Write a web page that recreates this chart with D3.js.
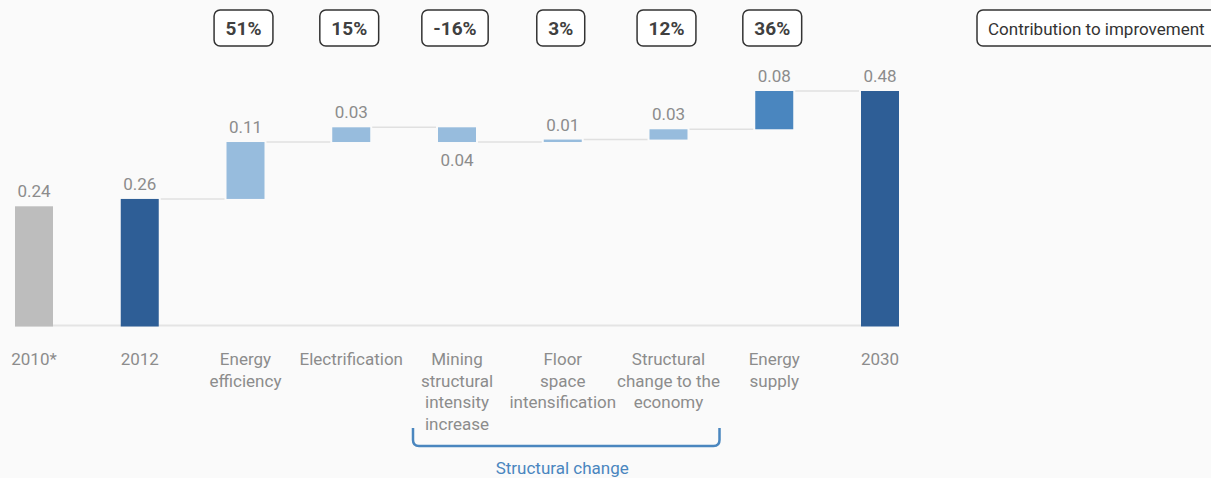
<!DOCTYPE html>
<html>
<head>
<meta charset="utf-8">
<script src="https://cdn.jsdelivr.net/npm/d3@7"></script>
<style>
    html, body { margin: 0; padding: 0; background: #fafafa; }
    svg { display: block; font-family: Roboto, "Liberation Sans", sans-serif; }
</style>
</head>
<body>
<script>
//chart data
var categories = ["2010*", "2012", "Energy efficiency", "Electrification", "Mining structural intensity increase",
    "Floor space intensification", "Structural change to the economy", "Energy supply", "2030"];
var labelLines = [["2010*"], ["2012"], ["Energy", "efficiency"], ["Electrification"],
    ["Mining", "structural", "intensity", "increase"], ["Floor", "space", "intensification"],
    ["Structural", "change to the", "economy"], ["Energy", "supply"], ["2030"]];
//bar kind: total or step
var kinds = ["ref", "total", "step", "step", "step", "step", "step", "supply", "total"];
//totals for full bars, changes for waterfall steps
var values = [0.245, 0.26, 0.116, 0.030, -0.030, 0.005, 0.021, 0.078, 0.48];
var valueLabels = ["0.24", "0.26", "0.11", "0.03", "0.04", "0.01", "0.03", "0.08", "0.48"];
var contributions = [null, null, "51%", "15%", "-16%", "3%", "12%", "36%", null];

var width = 1211,
    height = 478;

var colors = {ref: "#bdbdbd", total: "#2e5e96", step: "#97bcdd", supply: "#4a86bf"};

var svg = d3.select("body")
    .append("svg")
    .attr("width", width)
    .attr("height", height);

var x = d3.scaleBand()
    .domain(categories)
    .range([15, 899])
    .paddingInner(0.6407)
    .paddingOuter(0);

var y = d3.scaleLinear()
    .domain([0, 0.48])
    .range([326.5, 91]);

//build start/end of each bar
var bars = [];
var running = 0;
for (var i = 0; i < categories.length; i++){
    var d = {cat: categories[i], kind: kinds[i], label: valueLabels[i], pct: contributions[i]};
    if (kinds[i] == "ref" || kinds[i] == "total"){
        d.y0 = 0;
        d.y1 = values[i];
        if (kinds[i] == "total") running = values[i];
    } else {
        d.y0 = running;
        d.y1 = running + values[i];
        running = d.y1;
    }
    bars.push(d);
};

//baseline
svg.append("line")
    .attr("x1", x(categories[0]))
    .attr("x2", x(categories[8]))
    .attr("y1", y(0) - 1)
    .attr("y2", y(0) - 1)
    .attr("stroke", "#e4e4e4")
    .attr("stroke-width", 2);

//connector lines between bars
for (var i = 1; i < bars.length - 1; i++){
    svg.append("line")
        .attr("x1", x(bars[i].cat) + x.bandwidth() + 2)
        .attr("x2", x(bars[i + 1].cat) - 2)
        .attr("y1", y(bars[i].y1))
        .attr("y2", y(bars[i].y1))
        .attr("stroke", "#e0e0e0")
        .attr("stroke-width", 1.5);
};

svg.selectAll(".bar")
    .data(bars)
    .enter()
    .append("rect")
    .attr("class", "bar")
    .attr("x", function(d){ return x(d.cat); })
    .attr("width", x.bandwidth())
    .attr("y", function(d){ return y(Math.max(d.y0, d.y1)); })
    .attr("height", function(d){ return Math.abs(y(d.y0) - y(d.y1)); })
    .attr("fill", function(d){ return colors[d.kind]; });

//value labels
svg.selectAll(".valueLabel")
    .data(bars)
    .enter()
    .append("text")
    .attr("class", "valueLabel")
    .attr("x", function(d){ return x(d.cat) + x.bandwidth() / 2; })
    .attr("y", function(d){
        if (d.y1 < d.y0) return y(d.y1) + 24;
        return y(Math.max(d.y0, d.y1)) - 9;
    })
    .attr("text-anchor", "middle")
    .attr("font-size", 17)
    .attr("fill", "#8c8c8c")
    .text(function(d){ return d.label; });

//category labels
var catLabels = svg.selectAll(".catLabel")
    .data(labelLines)
    .enter()
    .append("text")
    .attr("class", "catLabel")
    .attr("text-anchor", "middle")
    .attr("font-size", 17)
    .attr("fill", "#8c8c8c")
    .attr("transform", function(d, i){
        return "translate(" + (x(categories[i]) + x.bandwidth() / 2) + ",365)";
    });

catLabels.selectAll("tspan")
    .data(function(d){ return d; })
    .enter()
    .append("tspan")
    .attr("x", 0)
    .attr("y", function(d, i){ return i * 21.7; })
    .text(function(d){ return d; });

//contribution boxes
var pctGroups = svg.selectAll(".pct")
    .data(bars.filter(function(d){ return d.pct; }))
    .enter()
    .append("g")
    .attr("class", "pct")
    .attr("transform", function(d){
        return "translate(" + (x(d.cat) + x.bandwidth() / 2 - 2) + ",0)";
    });

pctGroups.append("rect");

pctGroups.append("text")
    .attr("text-anchor", "middle")
    .attr("y", 35)
    .attr("font-size", 19)
    .attr("font-weight", "bold")
    .attr("fill", "#404040")
    .text(function(d){ return d.pct; });

pctGroups.each(function(){
    var g = d3.select(this);
    var w = g.select("text").node().getComputedTextLength() + 23;
    g.select("rect")
        .attr("x", -w / 2)
        .attr("y", 10)
        .attr("width", w)
        .attr("height", 36)
        .attr("rx", 6)
        .attr("fill", "#ffffff")
        .attr("stroke", "#333333")
        .attr("stroke-width", 1.5);
});

//legend box
svg.append("rect")
    .attr("x", 977)
    .attr("y", 10)
    .attr("width", 250)
    .attr("height", 36)
    .attr("rx", 6)
    .attr("fill", "#ffffff")
    .attr("stroke", "#333333")
    .attr("stroke-width", 1.5);

svg.append("text")
    .attr("x", 988)
    .attr("y", 35)
    .attr("font-size", 17)
    .attr("fill", "#333333")
    .text("Contribution to improvement");

//structural change bracket
var bx0 = x(categories[4]) + x.bandwidth() / 2 - 44,
    bx1 = x(categories[6]) + x.bandwidth() / 2 + 51,
    by0 = 428,
    by1 = 446,
    r = 6;

svg.append("path")
    .attr("d", "M" + bx0 + "," + by0 + "V" + (by1 - r) + "Q" + bx0 + "," + by1 + " " + (bx0 + r) + "," + by1 +
        "H" + (bx1 - r) + "Q" + bx1 + "," + by1 + " " + bx1 + "," + (by1 - r) + "V" + by0)
    .attr("fill", "none")
    .attr("stroke", "#4a86bf")
    .attr("stroke-width", 2.5);

svg.append("text")
    .attr("x", (bx0 + bx1) / 2 - 4)
    .attr("y", 474)
    .attr("text-anchor", "middle")
    .attr("font-size", 17)
    .attr("fill", "#4a86bf")
    .text("Structural change");
</script>
</body>
</html>
